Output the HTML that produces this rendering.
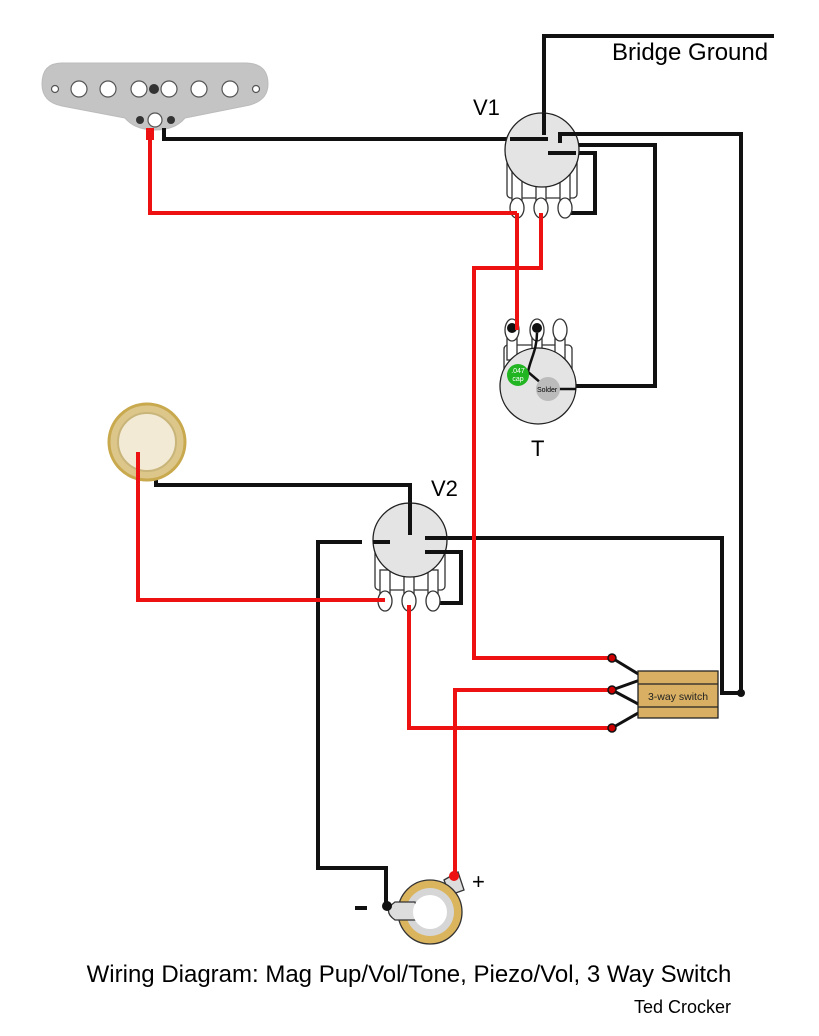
<!DOCTYPE html>
<html><head><meta charset="utf-8"><style>body{margin:0;background:#fff}svg{display:block}text{font-family:"Liberation Sans",Arial,sans-serif}</style></head><body>
<svg width="819" height="1036" viewBox="0 0 819 1036">
<!-- pickup -->
<path d="M62 63 H245 Q268 63 268 84 Q268 102 245 106 L185 118 Q175 130 155 130 Q135 130 125 118 L62 106 Q42 102 42 84 Q42 63 62 63Z" fill="#c4c4c4" stroke="#bbb"/>
<g fill="#fff" stroke="#555" stroke-width="1.2">
<circle cx="55" cy="89" r="3.5"/><circle cx="256" cy="89" r="3.5"/>
<circle cx="79" cy="89" r="8"/><circle cx="108" cy="89" r="8"/><circle cx="139" cy="89" r="8"/><circle cx="169" cy="89" r="8"/><circle cx="199" cy="89" r="8"/><circle cx="230" cy="89" r="8"/>
<circle cx="155" cy="120" r="7"/></g>
<circle cx="154" cy="89" r="5" fill="#333"/><circle cx="140" cy="120" r="4" fill="#333"/><circle cx="171" cy="120" r="4" fill="#333"/>
<!-- black wires -->
<g fill="none" stroke="#111" stroke-width="4">
<path d="M544 125 V36 H774"/>
<path d="M164 128 V139 H548"/>
<path d="M560 143 V134 H741 V693"/>
<path d="M565 145 H655 V386 H555"/>
<path d="M548 153 H595 V213 H565"/>
<path d="M156 472 V485 H410 V535"/>
<path d="M362 542 H318 V868 H386 V905"/>
<path d="M425 538 H722 V693 H741"/>
<path d="M425 552 H461 V603 H433"/>
</g>
<g stroke="#111" stroke-width="3">
<line x1="612" y1="658" x2="640" y2="675"/><line x1="612" y1="690" x2="640" y2="680"/><line x1="612" y1="690" x2="640" y2="705"/><line x1="612" y1="728" x2="640" y2="712"/></g>
<circle cx="741" cy="693" r="4" fill="#111"/>
<!-- V1 -->
<rect x="507" y="150" width="70" height="48" rx="4" fill="#fff" stroke="#333" stroke-width="1.3"/>
<g fill="#fff" stroke="#333" stroke-width="1.3"><rect x="512" y="170" width="10" height="30"/><rect x="536" y="170" width="10" height="30"/><rect x="560" y="170" width="10" height="30"/>
<ellipse cx="517" cy="208" rx="7" ry="10"/><ellipse cx="541" cy="208" rx="7" ry="10"/><ellipse cx="565" cy="208" rx="7" ry="10"/></g>
<circle cx="542" cy="150" r="37" fill="#e4e4e4" stroke="#222" stroke-width="1.3"/>
<path d="M544 113 V135 M510 139 H548 M560 143 V134 H576 M548 153 H576" stroke="#111" stroke-width="4" fill="none"/>
<text x="473" y="115" font-size="22">V1</text>
<!-- Tone -->
<rect x="504" y="345" width="68" height="40" rx="4" fill="#fff" stroke="#333" stroke-width="1.3"/>
<g fill="#fff" stroke="#333" stroke-width="1.3"><rect x="507" y="335" width="10" height="25"/><rect x="532" y="335" width="10" height="25"/><rect x="555" y="335" width="10" height="25"/>
<ellipse cx="512" cy="330" rx="7" ry="11"/><ellipse cx="537" cy="330" rx="7" ry="11"/><ellipse cx="560" cy="330" rx="7" ry="11"/></g>
<circle cx="512" cy="328" r="5" fill="#111"/><circle cx="537" cy="328" r="5" fill="#111"/>
<circle cx="538" cy="386" r="38" fill="#e4e4e4" stroke="#222" stroke-width="1.3"/>
<path d="M537 333 C537 350 530 360 528 372 L548 389 H576" stroke="#111" stroke-width="2.5" fill="none"/>
<circle cx="548" cy="389" r="12" fill="#bbb"/>
<text x="537" y="392" font-size="7">Solder</text>
<circle cx="518" cy="375" r="11" fill="#22b522"/>
<text x="518" y="373" font-size="7" fill="#fff" text-anchor="middle">.047</text><text x="518" y="381" font-size="7" fill="#fff" text-anchor="middle">cap</text>
<text x="531" y="456" font-size="22">T</text>
<!-- piezo -->
<circle cx="147" cy="442" r="38" fill="#dcc68a" stroke="#c9a94e" stroke-width="3"/>
<circle cx="147" cy="442" r="29" fill="#f2ead4" stroke="#c9b57a" stroke-width="2"/>
<!-- V2 -->
<rect x="375" y="545" width="70" height="45" rx="4" fill="#fff" stroke="#333" stroke-width="1.3"/>
<g fill="#fff" stroke="#333" stroke-width="1.3"><rect x="380" y="570" width="10" height="28"/><rect x="404" y="570" width="10" height="28"/><rect x="428" y="570" width="10" height="28"/>
<ellipse cx="385" cy="601" rx="7" ry="10"/><ellipse cx="409" cy="601" rx="7" ry="10"/><ellipse cx="433" cy="601" rx="7" ry="10"/></g>
<circle cx="410" cy="540" r="37" fill="#e4e4e4" stroke="#222" stroke-width="1.3"/>
<path d="M410 503 V535 M373 542 H390 M425 538 H447 M425 552 H447" stroke="#111" stroke-width="4"/>
<text x="431" y="496" font-size="22">V2</text>
<!-- red wires -->
<g fill="none" stroke="#ee1111" stroke-width="4">
<path d="M150 130 V213 H517"/>
<path d="M517 213 V330"/>
<path d="M541 213 V268 H474 V658 H612"/>
<path d="M138 452 V600 H385"/>
<path d="M409 605 V728 H612"/>
<path d="M612 690 H455 V875"/>
</g>
<rect x="146" y="128" width="8" height="12" fill="#ee1111"/>
<g fill="#c00" stroke="#111" stroke-width="1.5"><circle cx="612" cy="658" r="4"/><circle cx="612" cy="690" r="4"/><circle cx="612" cy="728" r="4"/></g>
<!-- switch -->
<rect x="638" y="671" width="80" height="47" fill="#d9b063" stroke="#222" stroke-width="1.3"/>
<line x1="638" y1="684" x2="718" y2="684" stroke="#222" stroke-width="1.3"/><line x1="638" y1="707" x2="718" y2="707" stroke="#222" stroke-width="1.3"/>
<text x="678" y="700" font-size="10.5" text-anchor="middle" fill="#222">3-way switch</text>
<!-- jack -->
<path d="M444 880 L458 872 L464 890 L450 895Z" fill="#ddd" stroke="#333" stroke-width="1.3"/>
<circle cx="430" cy="912" r="32" fill="#dbb45e" stroke="#333" stroke-width="1.3"/>
<circle cx="430" cy="912" r="24" fill="#d6d6d6"/>
<path d="M395 902 H415 L420 920 H395 Q382 911 395 902Z" fill="#ddd" stroke="#333" stroke-width="1.3"/>
<circle cx="430" cy="912" r="17" fill="#fff"/>
<circle cx="387" cy="906" r="5" fill="#111"/>
<circle cx="454" cy="876" r="5" fill="#ee1111"/>
<rect x="355" y="906" width="12" height="4" fill="#111"/>
<text x="472" y="889" font-size="22">+</text>
<!-- labels -->
<text x="612" y="60" font-size="24">Bridge Ground</text>
<text x="409" y="982" font-size="24" text-anchor="middle">Wiring Diagram: Mag Pup/Vol/Tone, Piezo/Vol, 3 Way Switch</text>
<text x="634" y="1013" font-size="18">Ted Crocker</text>
</svg>
</body></html>
